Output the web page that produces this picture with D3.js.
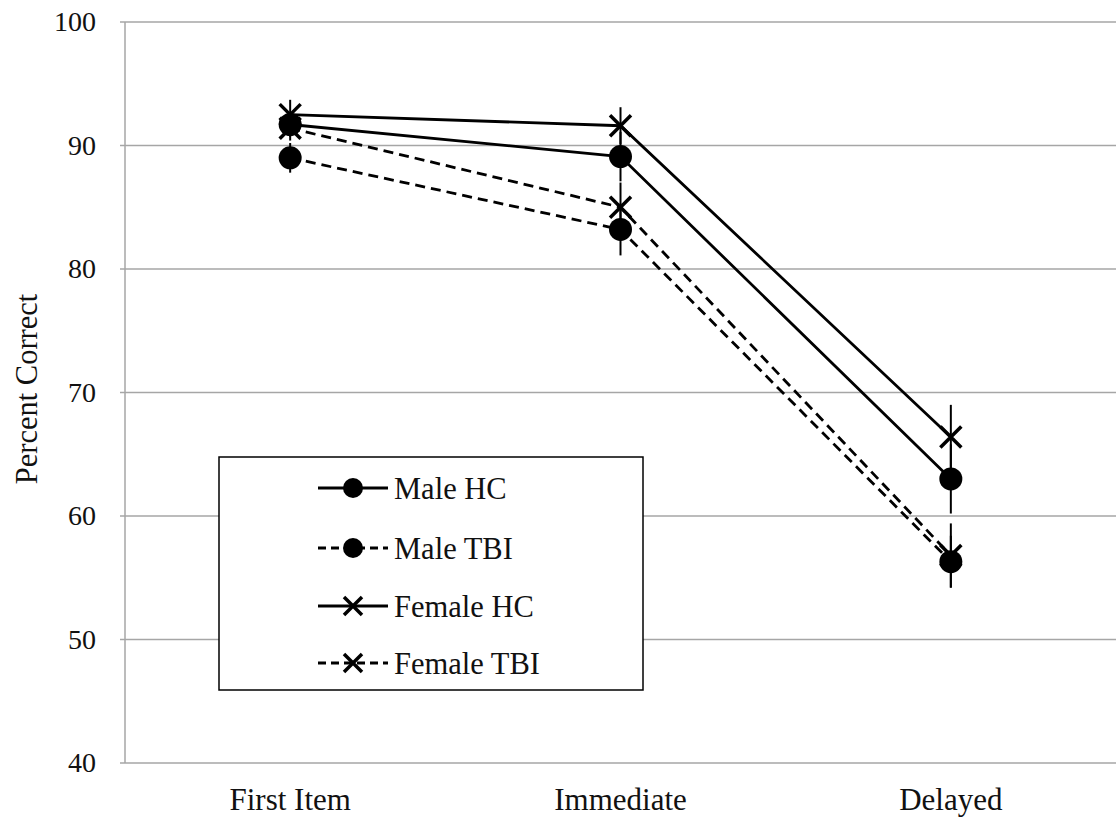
<!DOCTYPE html>
<html><head><meta charset="utf-8">
<script src="https://cdn.jsdelivr.net/npm/d3@7"></script>
<style>body{margin:0;background:#fff}svg{display:block}text{font-family:"Liberation Serif","Times New Roman",serif;fill:#111}</style>
</head><body><svg id="c" width="1118" height="823"></svg>
<script>
const categories = ["First Item", "Immediate", "Delayed"];
const yTicks = [40, 50, 60, 70, 80, 90, 100];
const seriesNames = ["Male HC", "Male TBI", "Female HC", "Female TBI"];
const seriesMarkers = ["circle", "circle", "cross", "cross"];
const seriesDashed = [false, true, false, true];
const maleHC = [91.7, 89.1, 63.0];
const maleTBI = [89.0, 83.2, 56.3];
const femaleHC = [92.5, 91.6, 66.4];
const femaleTBI = [91.4, 85.0, 56.8];
const maleHCErr = [1.0, 2.0, 2.8];
const maleTBIErr = [1.2, 2.1, 2.1];
const femaleHCErr = [1.2, 1.5, 2.6];
const femaleTBIErr = [1.0, 2.0, 2.6];

const values = [maleHC, maleTBI, femaleHC, femaleTBI];
const errs = [maleHCErr, maleTBIErr, femaleHCErr, femaleTBIErr];

const svg = d3.select("#c");
const L = 125, R = 1116, T = 22, B = 763;
const x = d3.scaleBand().domain(categories).range([L, R]);
const y = d3.scaleLinear().domain([40, 100]).range([B, T]);
const cx = c => x(c) + x.bandwidth() / 2;

// gridlines
svg.append("g").selectAll("line").data(yTicks).join("line")
  .attr("x1", L - 5).attr("x2", R).attr("y1", d => y(d)).attr("y2", d => y(d))
  .attr("stroke", "#a6a6a6").attr("stroke-width", 1.5);
svg.append("line").attr("x1", L).attr("x2", L).attr("y1", T).attr("y2", B)
  .attr("stroke", "#a6a6a6").attr("stroke-width", 1.5);

// y tick labels
svg.append("g").selectAll("text").data(yTicks).join("text")
  .attr("x", 96).attr("y", d => y(d)).attr("dy", "0.33em").attr("text-anchor", "end")
  .attr("font-size", 28).text(d => d);
// x labels
svg.append("g").selectAll("text").data(categories).join("text")
  .attr("x", d => cx(d)).attr("y", 810).attr("text-anchor", "middle")
  .attr("font-size", 31).text(d => d);
// y title
svg.append("text").attr("transform", `translate(37,389) rotate(-90)`)
  .attr("text-anchor", "middle").attr("font-size", 30.5).text("Percent Correct");

// error bars
values.forEach((vals, si) => {
  svg.append("g").selectAll("line").data(categories).join("line")
    .attr("x1", d => cx(d)).attr("x2", d => cx(d))
    .attr("y1", (d, i) => y(vals[i] + errs[si][i])).attr("y2", (d, i) => y(vals[i] - errs[si][i]))
    .attr("stroke", "#000").attr("stroke-width", 2);
});

const line = d3.line().x((d, i) => cx(categories[i])).y(d => y(d));
function marker(g, type, px, py, r) {
  if (type === "circle") {
    g.append("circle").attr("cx", px).attr("cy", py).attr("r", r).attr("fill", "#000");
  } else {
    const s = r;
    g.append("path").attr("d", `M${px - s},${py - s}L${px + s},${py + s}M${px - s},${py + s}L${px + s},${py - s}`)
      .attr("stroke", "#000").attr("stroke-width", 3.5).attr("fill", "none");
  }
}
values.forEach((vals, si) => {
  svg.append("path").datum(vals).attr("d", line).attr("fill", "none")
    .attr("stroke", "#000").attr("stroke-width", 2.8)
    .attr("stroke-dasharray", seriesDashed[si] ? "10,6" : null);
});
values.forEach((vals, si) => {
  const g = svg.append("g");
  vals.forEach((v, i) => marker(g, seriesMarkers[si], cx(categories[i]), y(v), seriesMarkers[si] === "circle" ? 11.5 : 10.5));
});

// legend
svg.append("rect").attr("x", 219).attr("y", 457).attr("width", 424).attr("height", 233)
  .attr("fill", "#fff").attr("stroke", "#000").attr("stroke-width", 1.5);
const ly = [488, 548, 606, 663];
seriesNames.forEach((n, i) => {
  const g = svg.append("g");
  g.append("line").attr("x1", 318).attr("x2", 388).attr("y1", ly[i]).attr("y2", ly[i])
    .attr("stroke", "#000").attr("stroke-width", 2.8).attr("stroke-dasharray", seriesDashed[i] ? "8,5" : null);
  marker(g, seriesMarkers[i], 353, ly[i], seriesMarkers[i] === "circle" ? 10 : 9);
  g.append("text").attr("x", 394).attr("y", ly[i]).attr("dy", "0.36em").attr("font-size", 30.5).text(n);
});
</script></body></html>
